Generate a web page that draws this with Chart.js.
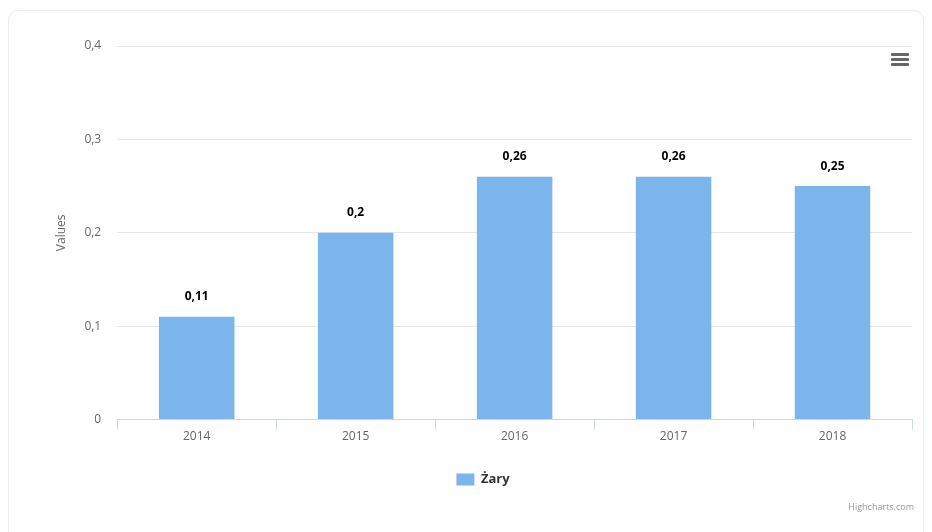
<!DOCTYPE html>
<html>
<head>
<meta charset="utf-8">
<script src="https://cdn.jsdelivr.net/npm/chart.js@4.4.0/dist/chart.umd.min.js"></script>
<style>
  html, body { margin: 0; padding: 0; background: #fff; }
  #wrap { position: relative; width: 932px; height: 532px; overflow: hidden; }
  #card {
    position: absolute; left: 8px; top: 10px; width: 916px; height: 560px;
    border: 1px solid #ececec; border-radius: 10px; box-sizing: border-box;
  }
  #chart { position: absolute; left: 0; top: 0; }
  #menu { position: absolute; left: 891px; top: 53px; width: 18px; }
  #menu span { display: block; height: 3px; background: #666; margin-bottom: 2px; border-radius: 1px; }
  #credit {
    position: absolute; right: 18px; top: 500px;
    font: 9px "Open Sans", sans-serif; color: #999;
  }
</style>
</head>
<body>
<div id="wrap">
  <div id="card"></div>
  <canvas id="chart" width="932" height="532"></canvas>
  <div id="menu"><span></span><span></span><span></span></div>
  <div id="credit">Highcharts.com</div>
</div>
<script>
// yearly values for Żary
const years = ["2014", "2015", "2016", "2017", "2018"];
const values = [0.11, 0.2, 0.26, 0.26, 0.25];
const seriesName = "Żary";

const barColor = "#7cb5ec";
const fontFam = "'Open Sans', sans-serif";

const commaNum = v => String(Math.round(v * 100) / 100).replace(".", ",");

// value labels over each bar, bold with a white halo
const barLabels = {
  id: "barLabels",
  afterDatasetsDraw(chart) {
    const ctx = chart.ctx;
    const meta = chart.getDatasetMeta(0);
    ctx.save();
    ctx.font = "bold 12px " + fontFam;
    ctx.textAlign = "center";
    ctx.textBaseline = "middle";
    ctx.lineJoin = "round";
    meta.data.forEach((bar, i) => {
      const txt = commaNum(values[i]);
      ctx.strokeStyle = "#fff";
      ctx.lineWidth = 3;
      ctx.strokeText(txt, bar.x, bar.y - 20);
      ctx.fillStyle = "#000";
      ctx.fillText(txt, bar.x, bar.y - 20);
    });
    ctx.restore();
  }
};

new Chart(document.getElementById("chart"), {
  type: "bar",
  data: {
    labels: years,
    datasets: [{
      label: seriesName,
      data: values,
      backgroundColor: barColor,
      borderWidth: 0,
      categoryPercentage: 1,
      barPercentage: 0.475
    }]
  },
  options: {
    responsive: false,
    animation: false,
    layout: { padding: { left: 54, right: 20, top: 46, bottom: 36 } },
    plugins: {
      tooltip: { enabled: false },
      legend: {
        position: "bottom",
        labels: {
          boxWidth: 18, boxHeight: 12, padding: 14,
          color: "#333",
          font: { family: fontFam, size: 13, weight: "bold" }
        }
      }
    },
    scales: {
      x: {
        grid: { drawOnChartArea: false, drawTicks: true, tickLength: 10, color: "#ccd6eb", offset: true },
        border: { color: "#ccd6eb" },
        ticks: { color: "#666", font: { family: fontFam, size: 12 }, padding: 0 },
        afterFit: s => { s.height += 15; }
      },
      y: {
        min: 0, max: 0.4,
        grid: { color: "#e6e6e6", drawTicks: false },
        border: { display: false },
        ticks: {
          stepSize: 0.1, padding: 16, color: "#666",
          font: { family: fontFam, size: 12 },
          callback: v => commaNum(v)
        },
        title: {
          display: true, text: "Values", color: "#666",
          font: { family: fontFam, size: 12 }, padding: { top: 0, bottom: 0 }
        }
      }
    }
  },
  plugins: [barLabels]
});
</script>
</body>
</html>
